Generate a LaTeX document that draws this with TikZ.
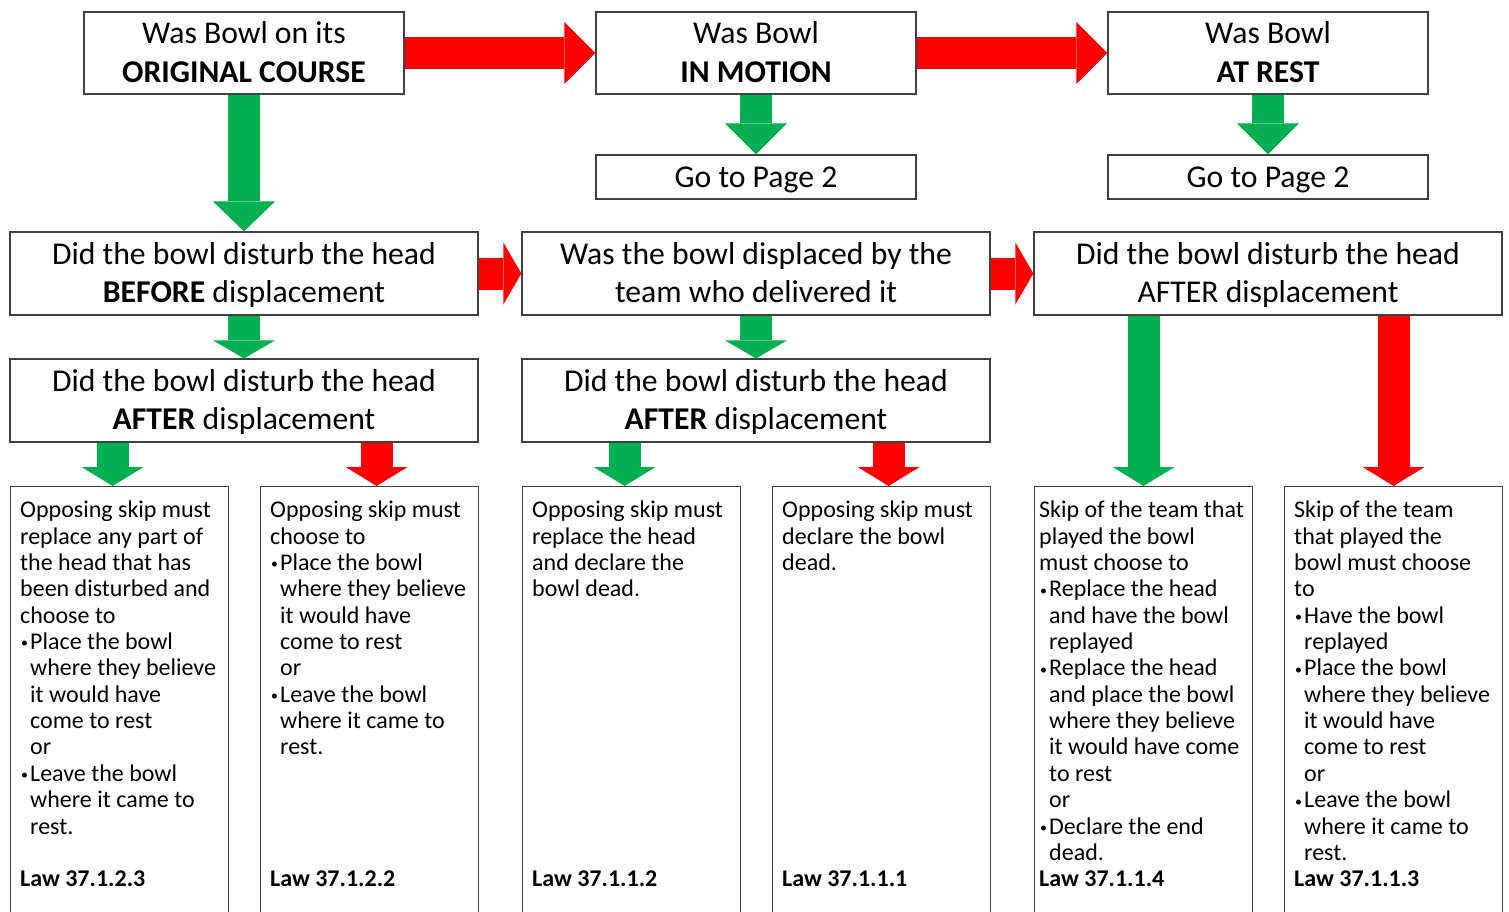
\documentclass[tikz,border=0pt]{standalone}
\usepackage{fontspec}
\setmainfont{Carlito}
\usetikzlibrary{arrows.meta,calc}

% bullet and hanging indent for list lines inside the answer boxes
\newcommand\bitem{\makebox[10pt][l]{\hspace{1pt}\raisebox{1.6pt}{\fontsize{14}{14}\selectfont\textbullet}}}
\newcommand\cont{\hspace*{10pt}}
% fixed first-line height and last-line depth for the question boxes
\newcommand\tstrut{\rule{0pt}{28pt}}
\newcommand\bstrut{\rule[-7.8pt]{0pt}{7.8pt}}

\tikzset{
  x=1pt, y=-1pt,
  box/.style={draw=black!75, line width=1.2pt, fill=white, inner sep=0pt,
    align=center, font=\fontsize{31.7}{38.6}\selectfont},
  qbox/.style={box, minimum width=468pt, minimum height=83pt},
  tbox/.style={box, minimum width=320pt, minimum height=82pt},
  gbox/.style={box, minimum width=320pt, minimum height=44pt},
  abox/.style={draw=black!75, line width=1.2pt, fill=white, inner sep=0pt,
    minimum width=218pt, minimum height=460pt, anchor=north west},
  atext/.style={anchor=north west, align=left, inner sep=0pt,
    font=\fontsize{24}{26.36}\selectfont},
  law/.style={anchor=base west, inner sep=0pt,
    font=\fontsize{24}{26.36}\selectfont\bfseries},
  blk/.style 2 args={draw=#1, line width=32pt,
    -{Triangle[length=#2, width=62pt, line width=0pt]}},
}
\definecolor{okgreen}{HTML}{00B050}
\definecolor{nored}{HTML}{FF0000}

\begin{document}
\begin{tikzpicture}
\clip (0,0) rectangle (1509,912);
\fill[white] (0,0) rectangle (1509,912);

% top row: state of the bowl
\node[tbox] (A) at (244,53) {\tstrut Was Bowl on its\\\textbf{ORIGINAL COURSE}\bstrut};
\node[tbox] (B) at (756,53) {\tstrut Was Bowl\\\textbf{IN MOTION}\bstrut};
\node[tbox] (C) at (1268,53) {\tstrut Was Bowl\\\textbf{AT REST}\bstrut};
\node[gbox] (G1) at (756,177) {\tstrut Go to Page 2\bstrut};
\node[gbox] (G2) at (1268,177) {\tstrut Go to Page 2\bstrut};

% second row of questions
\node[qbox] (D1) at (244,273.5) {\tstrut Did the bowl disturb the head\\\textbf{BEFORE} displacement\bstrut};
\node[qbox] (D2) at (756,273.5) {\tstrut Was the bowl displaced by the\\team who delivered it\bstrut};
\node[qbox] (D3) at (1268,273.5) {\tstrut Did the bowl disturb the head\\AFTER displacement\bstrut};

% third row of questions
\node[qbox] (E1) at (244,400.5) {\tstrut Did the bowl disturb the head\\\textbf{AFTER} displacement\bstrut};
\node[qbox] (E2) at (756,400.5) {\tstrut Did the bowl disturb the head\\\textbf{AFTER} displacement\bstrut};

% answer boxes
\node[abox] (F1) at (10,486) {};
\node[abox] (F2) at (260,486) {};
\node[abox] (F3) at (522,486) {};
\node[abox] (F4) at (772,486) {};
\node[abox] (F5) at (1034,486) {};
\node[abox] (F6) at (1284,486) {};

\node[atext] (F1t) at ($(F1.north west)+(10,12.5)$) {\rule{0pt}{19pt}Opposing skip must\\
replace any part of\\
the head that has\\
been disturbed and\\
choose to\\
\bitem Place the bowl\\
\cont where they believe\\
\cont it would have\\
\cont come to rest\\
\cont or\\
\bitem Leave the bowl\\
\cont where it came to\\
\cont rest.};
\node[law] (F1l) at ($(F1.north west)+(10,400.5)$) {Law 37.1.2.3};

\node[atext] (F2t) at ($(F2.north west)+(10,12.5)$) {\rule{0pt}{19pt}Opposing skip must\\
choose to\\
\bitem Place the bowl\\
\cont where they believe\\
\cont it would have\\
\cont come to rest\\
\cont or\\
\bitem Leave the bowl\\
\cont where it came to\\
\cont rest.};
\node[law] (F2l) at ($(F2.north west)+(10,400.5)$) {Law 37.1.2.2};

\node[atext] (F3t) at ($(F3.north west)+(10,12.5)$) {\rule{0pt}{19pt}Opposing skip must\\
replace the head\\
and declare the\\
bowl dead.};
\node[law] (F3l) at ($(F3.north west)+(10,400.5)$) {Law 37.1.1.2};

\node[atext] (F4t) at ($(F4.north west)+(10,12.5)$) {\rule{0pt}{19pt}Opposing skip must\\
declare the bowl\\
dead.};
\node[law] (F4l) at ($(F4.north west)+(10,400.5)$) {Law 37.1.1.1};

\node[atext] (F5t) at ($(F5.north west)+(5,12.5)$) {\rule{0pt}{19pt}Skip of the team that\\
played the bowl\\
must choose to\\
\bitem Replace the head\\
\cont and have the bowl\\
\cont replayed\\
\bitem Replace the head\\
\cont and place the bowl\\
\cont where they believe\\
\cont it would have come\\
\cont to rest\\
\cont or\\
\bitem Declare the end\\
\cont dead.};
\node[law] (F5l) at ($(F5.north west)+(5,400.5)$) {Law 37.1.1.4};

\node[atext] (F6t) at ($(F6.north west)+(10,12.5)$) {\rule{0pt}{19pt}Skip of the team\\
that played the\\
bowl must choose\\
to\\
\bitem Have the bowl\\
\cont replayed\\
\bitem Place the bowl\\
\cont where they believe\\
\cont it would have\\
\cont come to rest\\
\cont or\\
\bitem Leave the bowl\\
\cont where it came to\\
\cont rest.};
\node[law] (F6l) at ($(F6.north west)+(10,400.5)$) {Law 37.1.1.3};

% horizontal "no" arrows
\draw[blk={nored}{31pt}] (A.east) -- (B.west);
\draw[blk={nored}{31pt}] (B.east) -- (C.west);
\draw[blk={nored}{18pt}] (D1.east) -- (D2.west);
\draw[blk={nored}{18pt}] (D2.east) -- (D3.west);

% downward "yes" arrows
\draw[blk={okgreen}{30pt}] (A.south) -- (D1.north);
\draw[blk={okgreen}{31pt}] (B.south) -- (G1.north);
\draw[blk={okgreen}{31pt}] (C.south) -- (G2.north);
\draw[blk={okgreen}{18pt}] (D1.south) -- (E1.north);
\draw[blk={okgreen}{18pt}] (D2.south) -- (E2.north);

% arrows into the answer boxes
\coordinate (t1) at ($(F1.north)+(-7,0)$);
\coordinate (t2) at ($(F2.north)+(7,0)$);
\coordinate (t3) at ($(F3.north)+(-7,0)$);
\coordinate (t4) at ($(F4.north)+(7,0)$);
\draw[blk={okgreen}{19pt}] (t1 |- E1.south) -- (t1);
\draw[blk={nored}{19pt}] (t2 |- E1.south) -- (t2);
\draw[blk={okgreen}{19pt}] (t3 |- E2.south) -- (t3);
\draw[blk={nored}{19pt}] (t4 |- E2.south) -- (t4);
\draw[blk={okgreen}{19pt}] (F5.north |- D3.south) -- (F5.north);
\draw[blk={nored}{19pt}] (F6.north |- D3.south) -- (F6.north);
\end{tikzpicture}
\end{document}
